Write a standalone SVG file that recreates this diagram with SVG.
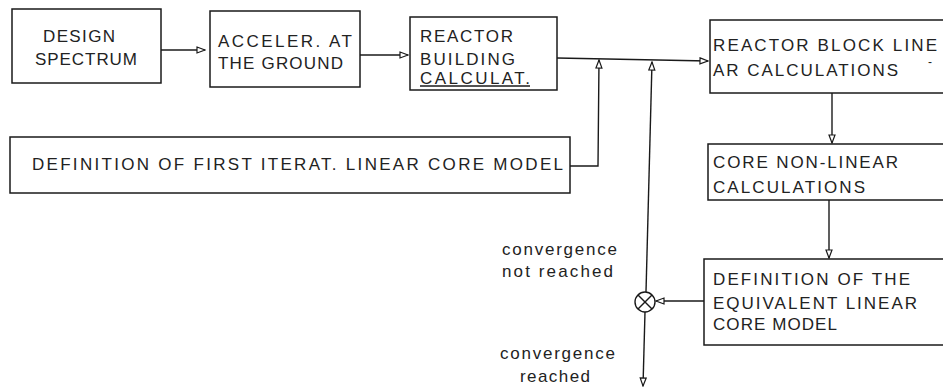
<svg xmlns="http://www.w3.org/2000/svg" width="943" height="389" viewBox="0 0 943 389">
<style>
.box{fill:none;stroke:#1a1a1a;stroke-width:1.5}
.ln{fill:none;stroke:#1a1a1a;stroke-width:1.4}
.t{font-family:"Liberation Sans",Arial,sans-serif;font-size:17px;fill:#222}
.s{font-family:"Liberation Sans",Arial,sans-serif;font-size:17px;fill:#222}
</style>
<defs>
<marker id="ah" viewBox="0 0 10 8" refX="9" refY="4" markerWidth="10" markerHeight="8" markerUnits="userSpaceOnUse" orient="auto">
<path d="M1,1 L9,4 L1,7 z" fill="#fff" stroke="#1a1a1a" stroke-width="1.2"/>
</marker>
</defs>
<rect width="943" height="389" fill="#fff"/>

<g id="design-spectrum">
<rect class="box" x="12" y="9" width="149" height="74"/>
<text class="t" x="43" y="42" textLength="72" lengthAdjust="spacing">DESIGN</text>
<text class="t" x="35" y="65" textLength="102" lengthAdjust="spacing">SPECTRUM</text>
</g>

<g id="acceler-ground">
<rect class="box" x="210" y="11" width="150" height="76"/>
<text class="t" x="218" y="47" textLength="134" lengthAdjust="spacing">ACCELER. AT</text>
<text class="t" x="218" y="69" textLength="125" lengthAdjust="spacing">THE GROUND</text>
</g>

<g id="reactor-building">
<rect class="box" x="410" y="17" width="147" height="73"/>
<text class="t" x="420" y="42" textLength="93" lengthAdjust="spacing">REACTOR</text>
<text class="t" x="420" y="65" textLength="95" lengthAdjust="spacing">BUILDING</text>
<text class="t" x="420" y="84" textLength="110" lengthAdjust="spacing">CALCULAT.</text>
<line class="ln" x1="420" y1="86" x2="530" y2="86" stroke-width="1"/>
</g>

<g id="first-iteration">
<rect class="box" x="10" y="137" width="560" height="56"/>
<text class="t" x="32" y="170" textLength="531" lengthAdjust="spacing">DEFINITION OF FIRST ITERAT. LINEAR CORE MODEL</text>
</g>

<g id="reactor-block">
<rect class="box" x="710" y="20" width="260" height="73"/>
<text class="t" x="713" y="51" textLength="224" lengthAdjust="spacing">REACTOR BLOCK LINE</text>
<text class="t" x="928" y="66" style="font-size:12px">-</text>
<text class="t" x="713" y="76" textLength="185" lengthAdjust="spacing">AR CALCULATIONS</text>
</g>

<g id="core-nonlinear">
<rect class="box" x="708" y="144" width="260" height="56"/>
<text class="t" x="713" y="168" textLength="185" lengthAdjust="spacing">CORE NON-LINEAR</text>
<text class="t" x="713" y="193" textLength="152" lengthAdjust="spacing">CALCULATIONS</text>
</g>

<g id="equivalent-model">
<rect class="box" x="704" y="259" width="260" height="86"/>
<text class="t" x="713" y="285" textLength="197" lengthAdjust="spacing">DEFINITION OF THE</text>
<text class="t" x="713" y="309" textLength="204" lengthAdjust="spacing">EQUIVALENT LINEAR</text>
<text class="t" x="713" y="330" textLength="124" lengthAdjust="spacing">CORE MODEL</text>
</g>

<g id="comparator">
<circle class="ln" cx="645" cy="302" r="10"/>
<line class="ln" x1="638" y1="295" x2="652" y2="309"/>
<line class="ln" x1="652" y1="295" x2="638" y2="309"/>
</g>

<g id="labels">
<text class="s" x="502" y="255" textLength="115" lengthAdjust="spacing">convergence</text>
<text class="s" x="502" y="277" textLength="111" lengthAdjust="spacing">not reached</text>
<text class="s" x="500" y="359" textLength="115" lengthAdjust="spacing">convergence</text>
<text class="s" x="520" y="382" textLength="70" lengthAdjust="spacing">reached</text>
</g>

<g id="connectors">
<line class="ln" x1="161" y1="50" x2="205" y2="50" marker-end="url(#ah)"/>
<line class="ln" x1="360" y1="55" x2="408" y2="55" marker-end="url(#ah)"/>
<line class="ln" x1="557" y1="58" x2="708" y2="61" marker-end="url(#ah)"/>
<polyline class="ln" points="570,166 598,166 599,60" marker-end="url(#ah)"/>
<line class="ln" x1="646" y1="292" x2="652" y2="62" marker-end="url(#ah)"/>
<line class="ln" x1="704" y1="301" x2="656" y2="301" marker-end="url(#ah)"/>
<line class="ln" x1="645" y1="312" x2="643" y2="386" marker-end="url(#ah)"/>
<line class="ln" x1="832" y1="93" x2="832" y2="143" marker-end="url(#ah)"/>
<line class="ln" x1="829" y1="200" x2="829" y2="258" marker-end="url(#ah)"/>
</g>
</svg>
